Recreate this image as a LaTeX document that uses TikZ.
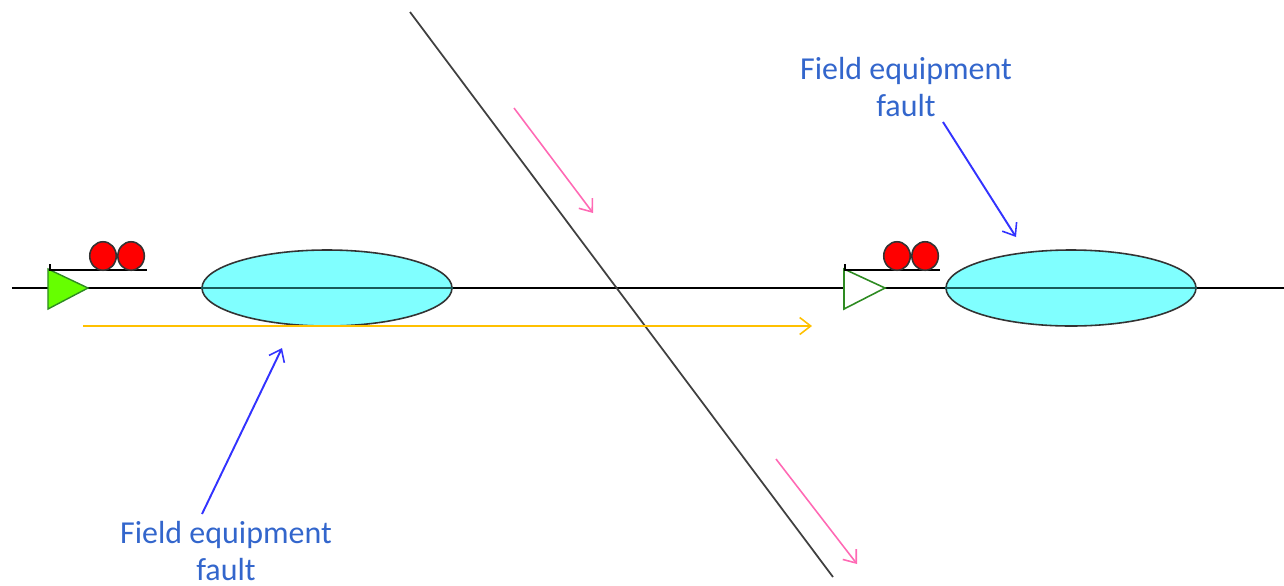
\documentclass[tikz,border=0pt]{standalone}
\usepackage{xcolor}
\usepackage{fontspec}
\setmainfont{Carlito}
\usetikzlibrary{arrows.meta,calc,positioning,shapes.geometric}
\definecolor{Ink}{HTML}{000000}
\definecolor{CrossGray}{HTML}{404040}
\definecolor{BlockCyan}{HTML}{80FFFF}
\definecolor{BlockLine}{HTML}{1A5A5A}
\definecolor{LampRed}{HTML}{FF0000}
\definecolor{SignalGreen}{HTML}{66FF00}
\definecolor{SignalEdge}{HTML}{2E8B22}
\definecolor{RouteOrange}{HTML}{FFC000}
\definecolor{MovePink}{HTML}{FF69B4}
\definecolor{FaultBlue}{HTML}{3333FF}
\definecolor{LabelBlue}{HTML}{3366CC}
\tikzset{
  trackline/.style={line width=0.45pt,Ink},
  blockline/.style={line width=0.4pt,BlockLine},
  crossline/.style={line width=0.5pt,CrossGray},
  blockarea/.style={ellipse,draw=Ink!80,fill=BlockCyan,line width=0.45pt,minimum width=2.5cm,minimum height=0.76cm,inner sep=0pt},
  lamp/.style={ellipse,draw=Ink!80,fill=LampRed,line width=0.45pt,minimum width=0.265cm,minimum height=0.285cm,inner sep=0pt},
  signalpost/.style={line width=0.45pt,Ink},
  signalon/.style={draw=SignalEdge,fill=SignalGreen,line width=0.4pt,line join=miter},
  signaloff/.style={draw=SignalEdge,fill=white,line width=0.45pt,line join=miter},
  openarrow/.style={-{Straight Barb[length=0.11cm,width=0.17cm,line width=0.45pt]},line width=0.45pt},
  routearrow/.style={openarrow,RouteOrange},
  movearrow/.style={openarrow,MovePink},
  faultarrow/.style={openarrow,FaultBlue,line width=0.55pt},
  faultlabel/.style={align=center,font=\fontsize{9.1}{10.5}\selectfont,text=LabelBlue,inner sep=0pt}
}
\begin{document}
\begin{tikzpicture}[x=1cm,y=1cm]
  \useasboundingbox (0,0) rectangle (12.84,5.85);

  \coordinate (TrackW) at (0.12,2.97);
  \coordinate (TrackE) at (12.84,2.97);
  \draw[trackline] (TrackW) -- (TrackE);
  \node[blockarea] (BlockA) at (3.27,2.97) {};
  \node[blockarea] (BlockB) at (10.71,2.97) {};
  \draw[blockline] (BlockA.west) -- (BlockA.east);
  \draw[blockline] (BlockB.west) -- (BlockB.east);

  % left signal
  \draw[signalon] (0.48,3.16) -- (0.88,2.97) -- (0.48,2.76) -- cycle;
  \draw[signalpost] (0.5,3.21) -- (0.5,3.15) -- (1.47,3.15);
  \node[lamp] (LampA) at (1.03,3.29) {};
  \node[lamp,right=0pt of LampA] (LampB) {};

  % right signal
  \draw[signaloff] (8.44,3.16) -- (8.85,2.97) -- (8.44,2.76) -- cycle;
  \draw[signalpost] (8.45,3.21) -- (8.45,3.15) -- (9.4,3.15);
  \node[lamp] (LampC) at (8.97,3.29) {};
  \node[lamp,right=0pt of LampC] (LampD) {};

  \coordinate (CrossN) at (4.1,5.73);
  \coordinate (CrossS) at (8.33,0.08);
  \draw[crossline] (CrossN) -- (CrossS);

  \coordinate (RouteW) at (0.83,2.59);
  \coordinate (RouteE) at (8.12,2.59);
  \draw[routearrow] (RouteW) -- (RouteE);

  \coordinate (MoveAs) at (5.14,4.77);
  \coordinate (MoveAe) at (5.93,3.72);
  \coordinate (MoveBs) at (7.76,1.26);
  \coordinate (MoveBe) at (8.57,0.21);
  \draw[movearrow] (MoveAs) -- (MoveAe);
  \draw[movearrow] (MoveBs) -- (MoveBe);

  \node[faultlabel] (FaultTop) at (9.06,4.98) {Field equipment\\fault};
  \node[faultlabel] (FaultLow) at (2.26,0.34) {Field equipment\\fault};
  \coordinate (FaultTopS) at (9.43,4.63);
  \coordinate (FaultTopE) at (10.16,3.48);
  \coordinate (FaultLowS) at (2.02,0.71);
  \coordinate (FaultLowE) at (2.82,2.37);
  \draw[faultarrow] (FaultTopS) -- (FaultTopE);
  \draw[faultarrow] (FaultLowS) -- (FaultLowE);
\end{tikzpicture}
\end{document}
